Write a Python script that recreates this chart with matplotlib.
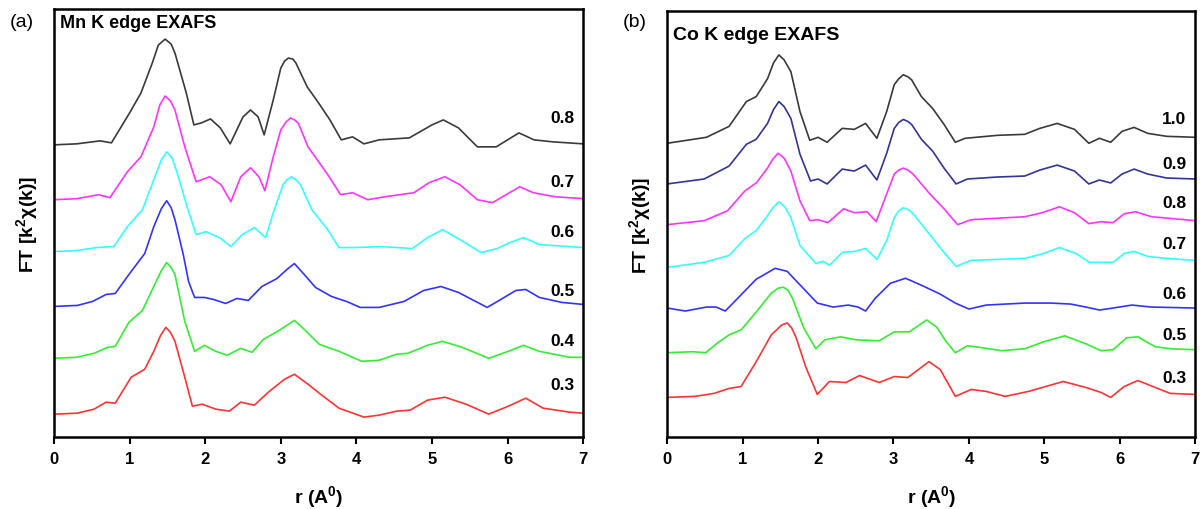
# -*- coding: utf-8 -*-

import matplotlib
matplotlib.use('Agg')
import matplotlib.pyplot as plt

plt.rcParams['font.family'] = ['Liberation Sans', 'DejaVu Sans']
plt.rcParams['mathtext.fontset'] = 'custom'
plt.rcParams['mathtext.rm'] = 'Liberation Sans:bold'
plt.rcParams['mathtext.bf'] = 'Liberation Sans:bold'
plt.rcParams['mathtext.default'] = 'rm'

# ---- Mn K edge (stacked FT curves, arbitrary units) ----
mn_labels = ['0.8', '0.7', '0.6', '0.5', '0.4', '0.3']
mn_colors = ['#3a3a3a', '#ff33ff', '#33ffff', '#3333ff', '#33ee33', '#ff3333']
mn_label_y = [320, 256, 206, 147, 97, 53]

mn_r_08 = [0, 0.3, 0.61, 0.76, 1.0, 1.15, 1.3, 1.38, 1.47, 1.55, 1.6, 1.75, 1.85, 1.95, 2.07, 2.2,
           2.33, 2.5, 2.6, 2.7, 2.78, 2.9, 3.0, 3.05, 3.1, 3.16, 3.2, 3.35, 3.5, 3.65, 3.8, 3.95,
           4.1, 4.3, 4.7, 5.0, 5.15, 5.35, 5.6, 5.85, 6.0, 6.15, 6.35, 6.6, 7.0]
mn_y_08 = [293, 294, 297, 295, 325, 345, 375, 393, 399, 394, 385, 345, 313, 315, 319, 310,
           294, 321, 328, 321, 303, 338, 370, 377, 380, 379, 375, 351, 335, 318, 298, 301,
           294, 298, 300, 313, 318, 310, 291, 291, 298, 305, 298, 296, 294]

mn_r_07 = [0, 0.3, 0.59, 0.74, 0.97, 1.15, 1.32, 1.4, 1.47, 1.54, 1.6, 1.73, 1.88, 2.06, 2.21,
           2.34, 2.47, 2.6, 2.71, 2.79, 2.9, 3.0, 3.07, 3.13, 3.18, 3.23, 3.36, 3.51, 3.64, 3.79,
           3.95, 4.15, 4.38, 4.76, 4.96, 5.17, 5.37, 5.6, 5.8, 5.98, 6.16, 6.34, 6.62, 7.0]
mn_y_07 = [238, 239, 243, 240, 266, 281, 311, 333, 342, 337, 328, 291, 256, 261, 253,
           236, 261, 270, 261, 247, 281, 308, 316, 320, 318, 315, 291, 275, 261, 243,
           245, 238, 241, 245, 255, 261, 253, 238, 235, 243, 251, 245, 241, 239]

mn_r_06 = [0, 0.3, 0.56, 0.79, 0.97, 1.17, 1.32, 1.42, 1.49, 1.56, 1.63, 1.76, 1.88, 2.01, 2.19,
           2.34, 2.49, 2.65, 2.8, 2.9, 3.03, 3.08, 3.14, 3.2, 3.26, 3.41, 3.62, 3.77, 3.97, 4.33,
           4.74, 4.94, 5.14, 5.37, 5.65, 5.86, 6.03, 6.21, 6.42, 7.0]
mn_y_06 = [186, 187, 190, 191, 211, 228, 258, 278, 286, 280, 265, 231, 203, 206, 200,
           191, 203, 210, 200, 225, 253, 258, 261, 258, 253, 228, 208, 190, 190, 191,
           189, 200, 208, 198, 185, 189, 195, 200, 193, 190]

mn_r_05 = [0, 0.31, 0.51, 0.69, 0.81, 1.02, 1.2, 1.32, 1.42, 1.49, 1.55, 1.6, 1.71, 1.78, 1.86,
           1.99, 2.11, 2.27, 2.42, 2.57, 2.75, 2.95, 3.08, 3.18, 3.31, 3.46, 3.67, 3.87, 4.05,
           4.3, 4.63, 4.89, 5.12, 5.35, 5.73, 5.91, 6.11, 6.24, 6.42, 6.72, 7.0]
mn_y_05 = [131, 132, 136, 143, 144, 166, 184, 211, 229, 237, 230, 218, 183, 156, 140,
           140, 138, 134, 139, 137, 151, 159, 168, 174, 163, 150, 141, 136, 130,
           130, 136, 147, 151, 145, 130, 138, 147, 148, 140, 135, 133]

mn_r_04 = [0, 0.3, 0.53, 0.71, 0.81, 0.99, 1.17, 1.32, 1.42, 1.49, 1.55, 1.6, 1.73, 1.86, 1.99,
           2.14, 2.29, 2.47, 2.62, 2.77, 2.98, 3.18, 3.31, 3.51, 3.77, 4.07, 4.3, 4.53, 4.68,
           4.94, 5.14, 5.4, 5.75, 6.01, 6.21, 6.42, 6.82, 7.0]
mn_y_04 = [79, 80, 84, 90, 91, 115, 127, 151, 167, 175, 170, 163, 116, 86, 92,
           86, 82, 89, 85, 98, 107, 117, 108, 93, 86, 76, 77, 83, 84,
           92, 96, 90, 79, 86, 92, 86, 80, 80]

mn_r_03 = [0, 0.31, 0.53, 0.69, 0.81, 1.02, 1.2, 1.32, 1.41, 1.48, 1.54, 1.6, 1.73, 1.83, 1.96,
           2.14, 2.32, 2.47, 2.65, 2.85, 3.05, 3.18, 3.36, 3.56, 3.77, 4.1, 4.3, 4.53, 4.71,
           4.94, 5.17, 5.45, 5.75, 6.01, 6.24, 6.47, 6.82, 7.0]
mn_y_03 = [23, 24, 28, 35, 34, 60, 68, 86, 102, 110, 105, 96, 60, 31, 33,
           28, 26, 35, 32, 46, 58, 63, 53, 41, 29, 20, 22, 26, 27,
           37, 40, 33, 23, 31, 39, 29, 25, 24]

mn_r = [mn_r_08, mn_r_07, mn_r_06, mn_r_05, mn_r_04, mn_r_03]
mn_y = [mn_y_08, mn_y_07, mn_y_06, mn_y_05, mn_y_04, mn_y_03]

# ---- Co K edge ----
co_labels = ['1.0', '0.9', '0.8', '0.7', '0.6', '0.5', '0.3']
co_colors = ['#3a3a3a', '#333399', '#ff33ff', '#33ffff', '#3333ff', '#33ee33', '#ff3333']
co_label_y = [321, 276, 236, 195, 145, 103, 60]

co_r_10 = [0, 0.52, 0.82, 1.05, 1.18, 1.33, 1.41, 1.48, 1.55, 1.64, 1.76, 1.89, 2.0, 2.12, 2.32,
           2.48, 2.63, 2.78, 2.91, 3.01, 3.07, 3.13, 3.19, 3.24, 3.37, 3.52, 3.67, 3.82, 3.95,
           4.38, 4.74, 4.94, 5.17, 5.4, 5.59, 5.73, 5.88, 6.03, 6.19, 6.37, 6.62, 7.0]
co_y_10 = [296, 302, 313, 338, 343, 361, 377, 385, 380, 368, 328, 299, 302, 297, 311,
           310, 316, 301, 328, 355, 361, 365, 363, 360, 343, 331, 315, 297, 301,
           304, 305, 311, 316, 310, 296, 301, 297, 308, 312, 306, 303, 302]

co_r_09 = [0, 0.49, 0.82, 1.05, 1.18, 1.33, 1.41, 1.48, 1.55, 1.64, 1.76, 1.9, 2.0, 2.12, 2.32,
           2.48, 2.63, 2.78, 2.91, 3.01, 3.07, 3.13, 3.19, 3.24, 3.37, 3.52, 3.67, 3.83, 3.98,
           4.38, 4.74, 4.94, 5.17, 5.4, 5.59, 5.73, 5.88, 6.03, 6.19, 6.37, 6.62, 7.0]
co_y_09 = [255, 260, 273, 295, 300, 316, 330, 338, 333, 321, 285, 258, 260, 255, 270,
           268, 274, 259, 286, 311, 317, 320, 318, 315, 300, 288, 271, 255, 260,
           262, 263, 269, 274, 268, 255, 259, 256, 265, 270, 265, 261, 260]

co_r_08 = [0, 0.49, 0.8, 1.03, 1.18, 1.33, 1.4, 1.47, 1.55, 1.64, 1.76, 1.89, 2.0, 2.13, 2.34,
           2.48, 2.65, 2.77, 2.91, 3.01, 3.07, 3.13, 3.19, 3.26, 3.47, 3.67, 3.85, 4.03, 4.74,
           4.97, 5.2, 5.4, 5.59, 5.75, 5.91, 6.06, 6.21, 6.42, 7.0]
co_y_08 = [214, 218, 228, 248, 256, 271, 280, 286, 281, 268, 238, 218, 219, 216, 230,
           226, 227, 217, 245, 265, 269, 271, 269, 265, 246, 230, 214, 219, 222,
           226, 232, 226, 215, 217, 216, 225, 227, 222, 218]

co_r_07 = [0, 0.49, 0.82, 1.03, 1.18, 1.33, 1.4, 1.48, 1.56, 1.64, 1.76, 1.97, 2.07, 2.15, 2.32,
           2.48, 2.63, 2.78, 2.91, 3.01, 3.07, 3.13, 3.2, 3.26, 3.47, 3.67, 3.83, 4.03, 4.74,
           4.99, 5.2, 5.42, 5.6, 5.91, 6.06, 6.19, 6.37, 6.62, 7.0]
co_y_07 = [171, 176, 183, 200, 208, 223, 231, 237, 232, 221, 193, 175, 177, 173, 186,
           187, 190, 179, 198, 221, 228, 231, 229, 225, 205, 186, 172, 178, 180,
           185, 191, 185, 176, 176, 185, 187, 182, 180, 178]

co_r_06 = [0, 0.24, 0.52, 0.65, 0.77, 0.95, 1.18, 1.43, 1.59, 1.79, 1.99, 2.2, 2.4, 2.53, 2.63,
           2.76, 2.96, 3.16, 3.37, 3.62, 3.82, 4.0, 4.23, 4.48, 4.74, 5.09, 5.35, 5.55, 5.73,
           5.91, 6.16, 6.42, 7.0]
co_y_06 = [130, 127, 131, 131, 127, 141, 159, 170, 167, 151, 135, 131, 133, 131, 127,
           140, 155, 160, 153, 144, 135, 129, 133, 134, 135, 135, 134, 131, 128,
           130, 133, 131, 130]

co_r_05 = [0, 0.34, 0.51, 0.67, 0.82, 0.98, 1.18, 1.38, 1.47, 1.54, 1.6, 1.66, 1.81, 1.97, 2.09,
           2.3, 2.5, 2.81, 3.01, 3.21, 3.44, 3.57, 3.7, 3.82, 3.98, 4.18, 4.43, 4.74, 4.99,
           5.27, 5.55, 5.75, 5.91, 6.09, 6.24, 6.47, 6.67, 7.0]
co_y_05 = [85, 86, 85, 95, 103, 108, 126, 145, 150, 151, 148, 140, 110, 89, 98,
           101, 98, 97, 106, 106, 118, 111, 96, 85, 92, 90, 87, 89, 96,
           102, 94, 87, 88, 100, 101, 91, 89, 88]

co_r_03 = [0, 0.37, 0.62, 0.82, 0.98, 1.18, 1.38, 1.52, 1.59, 1.65, 1.71, 1.84, 1.99, 2.15, 2.37,
           2.55, 2.81, 3.01, 3.19, 3.47, 3.62, 3.82, 4.03, 4.23, 4.48, 4.79, 5.25, 5.55, 5.75,
           5.88, 6.06, 6.24, 6.47, 6.67, 7.0]
co_y_03 = [40, 41, 44, 49, 51, 76, 103, 113, 115, 110, 100, 70, 43, 56, 55,
           62, 55, 61, 60, 76, 68, 41, 48, 46, 41, 46, 56, 50, 45,
           40, 51, 57, 50, 44, 43]

co_r = [co_r_10, co_r_09, co_r_08, co_r_07, co_r_06, co_r_05, co_r_03]
co_y = [co_y_10, co_y_09, co_y_08, co_y_07, co_y_06, co_y_05, co_y_03]

fig = plt.figure(figsize=(12, 5.1), dpi=100)
ax1 = fig.add_axes([0.045, 0.141, 0.441, 0.839])
ax2 = fig.add_axes([0.556, 0.141, 0.440, 0.835])


def draw_panel(ax, rs, ys, colors, labels, label_y, title, title_y, title_size):
    for r, y, c in zip(rs, ys, colors):
        ax.plot(r, y, color=c, lw=1.2, solid_joinstyle='round')
    for lab, ly in zip(labels, label_y):
        ax.text(6.72, ly, lab, ha='center', va='center', fontsize=12.5, fontweight='bold')
    ax.text(0.08, title_y, title, ha='left', va='center', fontsize=title_size, fontweight='bold')
    ax.set_xlim(0, 7)
    ax.set_ylim(0, 429)
    ax.set_yticks([])
    ax.set_xticks(range(0, 8))
    ax.tick_params(axis='x', direction='out', length=5, width=1.5, labelsize=12, pad=5)
    for t in ax.get_xticklabels():
        t.set_fontweight('bold')
    for s in ax.spines.values():
        s.set_linewidth(1.8)
    ax.set_xlabel('r (A$^0$)', fontsize=14, fontweight='bold', labelpad=12)
    ax.set_ylabel('FT [k$^2$χ(k)]', fontsize=14, fontweight='bold', labelpad=10)


draw_panel(ax1, mn_r, mn_y, mn_colors, mn_labels, mn_label_y, 'Mn K edge EXAFS', 416, 13)
draw_panel(ax2, co_r, co_y, co_colors, co_labels, co_label_y, 'Co K edge EXAFS', 406, 14)

fig.text(0.008, 0.955, '(a)', fontsize=14, ha='left', va='center')
fig.text(0.519, 0.955, '(b)', fontsize=14, ha='left', va='center')

plt.savefig('out.png', dpi=100)
